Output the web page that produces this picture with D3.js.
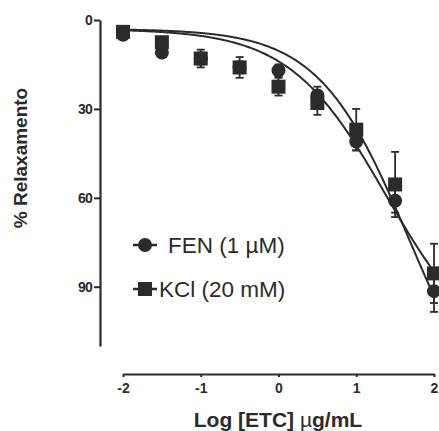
<!DOCTYPE html>
<html>
<head>
<meta charset="utf-8">
<script src="https://cdn.jsdelivr.net/npm/d3@7"></script>
<style>
  body { margin: 0; background: #fff; }
  svg { display: block; font-family: "Liberation Sans", Arial, sans-serif; }
</style>
</head>
<body>
<script>
// log concentration (x) for both series
var logConc = [-2, -1.5, -1, -0.5, 0, 0.5, 1, 1.5, 2];

// FEN (1 uM) - mean and SEM
var fenMean = [5, 11, 13, 16, 17, 25.5, 41, 61, 91.5];
var fenSem  = [1, 1.5, 2, 2, 2, 3, 3, 4, 7];

// KCl (20 mM) - mean and SEM
var kclMean = [4, 7.5, 13, 16, 22.5, 28, 37, 55.5, 85.5];
var kclSem  = [1, 1.5, 3, 3.5, 3, 4, 7, 11, 10];

// fitted sigmoid params [bottom, top, logEC50, hill]
var fenFit = [3, 145, 1.68, 0.75];
var kclFit = [3, 115, 1.38, 0.7];

var yTicks = [0, 30, 60, 90];
var xTicks = [-2, -1, 0, 1, 2];

var width = 439, height = 431;

var svg = d3.select("body").append("svg")
  .attr("width", width)
  .attr("height", height);

var x = d3.scaleLinear().domain([-2, 2]).range([123, 434]);
var y = d3.scaleLinear().domain([0, 110]).range([20, 346]);

var ink = "#2b2b2b";

// y axis
var yAxis = svg.append("g")
  .attr("transform", "translate(100,0)")
  .call(d3.axisLeft(y).tickValues(yTicks).tickSize(6).tickPadding(2).tickSizeOuter(0));
yAxis.select(".domain").attr("stroke", ink).attr("stroke-width", 2.2);
yAxis.selectAll(".tick line").attr("stroke", ink).attr("stroke-width", 2);
yAxis.selectAll(".tick text")
  .attr("fill", ink)
  .style("font-family", "'Liberation Sans Narrow', 'Liberation Sans', Arial, sans-serif")
  .style("font-weight", "bold")
  .style("font-size", "14px")
  .style("letter-spacing", "-0.8px");

// x axis
var xAxis = svg.append("g")
  .attr("transform", "translate(0,374)")
  .call(d3.axisBottom(x).tickValues(xTicks).tickSize(3).tickPadding(6).tickSizeOuter(0)
    .tickFormat(d3.format("d")));
xAxis.select(".domain").attr("stroke", ink).attr("stroke-width", 2.2);
xAxis.selectAll(".tick line").attr("stroke", ink).attr("stroke-width", 2);
xAxis.selectAll(".tick text")
  .attr("fill", ink)
  .text(function(d){ return String(d); })
  .style("font-family", "'Liberation Sans Narrow', 'Liberation Sans', Arial, sans-serif")
  .style("font-weight", "bold")
  .style("font-size", "14px");

// axis titles
svg.append("text")
  .attr("transform", "translate(27,158) rotate(-90)")
  .attr("text-anchor", "middle")
  .attr("fill", ink)
  .style("font-weight", "bold")
  .style("font-size", "19px")
  .text("% Relaxamento");

var xTitle = svg.append("text")
  .attr("x", 278)
  .attr("y", 427)
  .attr("text-anchor", "middle")
  .attr("fill", ink)
  .style("font-weight", "bold")
  .style("font-size", "21px");
xTitle.append("tspan").text("Log [ETC] ");
xTitle.append("tspan").style("font-weight", "normal").text("µ");
xTitle.append("tspan").text("g/mL");

// fitted curves
function hill(p){
  return function(v){
    return p[0] + (p[1] - p[0]) / (1 + Math.pow(10, (p[2] - v) * p[3]));
  };
}
var curveX = d3.range(-2, 2.001, 0.02);
var line = d3.line()
  .x(function(d){ return x(d[0]); })
  .y(function(d){ return y(d[1]); })
  .curve(d3.curveBasis);

[fenFit, kclFit].forEach(function(p){
  var f = hill(p);
  svg.append("path")
    .attr("d", line(curveX.map(function(v){ return [v, f(v)]; })))
    .attr("fill", "none")
    .attr("stroke", ink)
    .attr("stroke-width", 2);
});

// error bars
function errorBars(means, sems){
  var g = svg.append("g").attr("stroke", ink).attr("stroke-width", 1.8);
  logConc.forEach(function(c, i){
    var cx = x(c), lo = y(means[i] - sems[i]), hi = y(means[i] + sems[i]);
    g.append("line").attr("x1", cx).attr("x2", cx).attr("y1", lo).attr("y2", hi);
    g.append("line").attr("x1", cx - 4).attr("x2", cx + 4).attr("y1", lo).attr("y2", lo);
    g.append("line").attr("x1", cx - 4).attr("x2", cx + 4).attr("y1", hi).attr("y2", hi);
  });
}
errorBars(fenMean, fenSem);
errorBars(kclMean, kclSem);

// circles (FEN) under squares (KCl)
svg.selectAll(".fen")
  .data(logConc)
  .enter()
  .append("circle")
  .attr("class", "fen")
  .attr("cx", function(d){ return x(d); })
  .attr("cy", function(d, i){ return y(fenMean[i]); })
  .attr("r", 7)
  .attr("fill", ink);

svg.selectAll(".kcl")
  .data(logConc)
  .enter()
  .append("rect")
  .attr("class", "kcl")
  .attr("x", function(d){ return x(d) - 7; })
  .attr("y", function(d, i){ return y(kclMean[i]) - 7; })
  .attr("width", 14)
  .attr("height", 14)
  .attr("fill", ink);

// legend
var legend = svg.append("g");
legend.append("line").attr("x1", 133).attr("x2", 157).attr("y1", 245).attr("y2", 245)
  .attr("stroke", ink).attr("stroke-width", 2.5);
legend.append("circle").attr("cx", 145).attr("cy", 245).attr("r", 7).attr("fill", ink);
legend.append("text").attr("x", 168).attr("y", 253)
  .attr("fill", ink).style("font-size", "22.5px").text("FEN (1 µM)");

legend.append("line").attr("x1", 133).attr("x2", 157).attr("y1", 289).attr("y2", 289)
  .attr("stroke", ink).attr("stroke-width", 2.5);
legend.append("rect").attr("x", 138).attr("y", 282).attr("width", 14).attr("height", 14).attr("fill", ink);
legend.append("text").attr("x", 159).attr("y", 297)
  .attr("fill", ink).style("font-size", "22.5px").text("KCl (20 mM)");
</script>
</body>
</html>
